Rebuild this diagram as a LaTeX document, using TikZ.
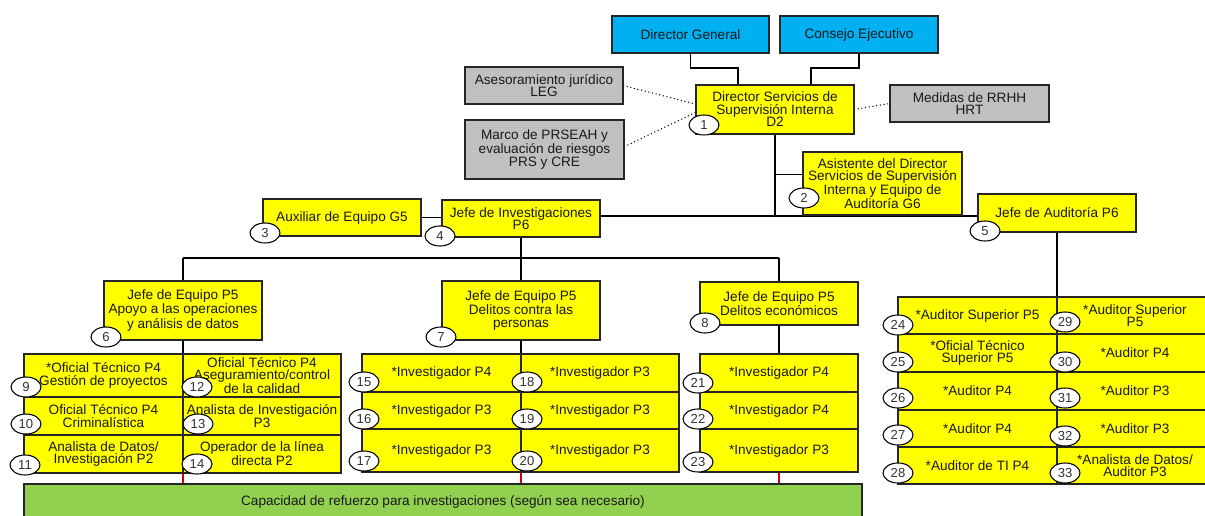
\documentclass[tikz,border=0pt]{standalone}
\usepackage{fontspec}
\setmainfont{Liberation Sans}
\usetikzlibrary{shapes.geometric,backgrounds}
\definecolor{yfill}{HTML}{FFFF00}
\definecolor{bfill}{HTML}{00B0F0}
\definecolor{grayfill}{HTML}{C0C0C0}
\definecolor{greenfill}{HTML}{92D050}
\definecolor{redline}{HTML}{D00000}
\newcommand\bx[7]{\node[#6,anchor=north west,minimum width={(#4-#2)*0.75pt},minimum height={(#5-#3)*0.75pt}] (#1) at (#2,#3) {#7};}
\tikzset{
 box/.style={draw=black!85, line width=0.8pt, inner sep=1pt, outer sep=0pt, align=center, font=\fontsize{10.2}{9.4}\selectfont, text=black!90},
 yb/.style={box, fill=yfill},
 bb/.style={box, fill=bfill},
 gb/.style={box, fill=grayfill},
 greenb/.style={box, fill=greenfill},
 numell/.style={ellipse, draw=black, line width=0.8pt, fill=white, minimum width=22.5pt, minimum height=15pt, inner sep=0pt, font=\fontsize{9.8}{9.8}\selectfont, text=black!80},
 conn/.style={draw=black, line width=0.8pt},
 dotconn/.style={draw=black, line width=0.8pt, dotted},
 redc/.style={draw=redline, line width=0.8pt}
}
\begin{document}
\begin{tikzpicture}[x=0.75pt,y=-0.75pt]
\useasboundingbox (0,0) rectangle (1205,516);
% boxes
\bx{dg}{612}{16}{769}{53}{bb}{Director General}
\bx{ce}{780}{16}{938}{53}{bb}{Consejo Ejecutivo}
\bx{leg}{465}{67}{623}{104}{gb}{Asesoramiento jurídico\\LEG}
\bx{prs}{465}{120}{624}{179}{gb}{Marco de PRSEAH y\\evaluación de riesgos\\PRS y CRE}
\bx{dssi}{696}{85}{854}{134}{yb}{Director Servicios de\\Supervisión Interna\\D2}
\bx{hrt}{890}{85}{1049}{122}{gb}{Medidas de RRHH\\HRT}
\bx{asis}{803}{152}{962}{215}{yb}{Asistente del Director\\Servicios de Supervisión\\Interna y Equipo de\\Auditoría G6}
\bx{aux}{263}{199}{421}{236}{yb}{Auxiliar de Equipo G5}
\bx{jinv}{442}{200}{600}{237}{yb}{Jefe de Investigaciones\\P6}
\bx{ja}{978}{194}{1136}{232}{yb}{Jefe de Auditoría P6}
\bx{je6}{104}{281}{262}{340}{yb}{Jefe de Equipo P5\\Apoyo a las operaciones\\y análisis de datos}
\bx{je7}{442}{281}{600}{340}{yb}{Jefe de Equipo P5\\Delitos contra las\\personas}
\bx{je8}{700}{282}{858}{325}{yb}{Jefe de Equipo P5\\Delitos económicos}
% left grid
\bx{c9}{24}{354}{183}{397}{yb}{*Oficial Técnico P4\\Gestión de proyectos}
\bx{c12}{183}{354}{341}{397}{yb}{Oficial Técnico P4\\Aseguramiento/control\\de la calidad}
\bx{c10}{24}{397}{183}{435}{yb}{Oficial Técnico P4\\Criminalística}
\bx{c13}{183}{397}{341}{435}{yb}{Analista de Investigación\\P3}
\bx{c11}{24}{435}{183}{473}{yb}{Analista de Datos/\\Investigación P2}
\bx{c14}{183}{435}{341}{473}{yb}{Operador de la línea\\directa P2}
% middle grid
\bx{c15}{362}{354}{521}{392}{yb}{*Investigador P4}
\bx{c18}{521}{354}{679}{392}{yb}{*Investigador P3}
\bx{c16}{362}{392}{521}{429}{yb}{*Investigador P3}
\bx{c19}{521}{392}{679}{429}{yb}{*Investigador P3}
\bx{c17}{362}{429}{521}{472}{yb}{*Investigador P3}
\bx{c20}{521}{429}{679}{472}{yb}{*Investigador P3}
% right grid
\bx{c21}{700}{354}{858}{392}{yb}{*Investigador P4}
\bx{c22}{700}{392}{858}{429}{yb}{*Investigador P4}
\bx{c23}{700}{429}{858}{472}{yb}{*Investigador P3}
% audit grid
\bx{c24}{898}{297}{1057}{334}{yb}{*Auditor Superior P5}
\bx{c25}{898}{334}{1057}{372}{yb}{*Oficial Técnico\\Superior P5}
\bx{c26}{898}{372}{1057}{410}{yb}{*Auditor P4}
\bx{c27}{898}{410}{1057}{447}{yb}{*Auditor P4}
\bx{c28}{898}{447}{1057}{484}{yb}{*Auditor de TI P4}
\bx{c29}{1057}{297}{1213}{334}{yb}{*Auditor Superior\\P5}
\bx{c30}{1057}{334}{1213}{372}{yb}{*Auditor P4}
\bx{c31}{1057}{372}{1213}{410}{yb}{*Auditor P3}
\bx{c32}{1057}{410}{1213}{447}{yb}{*Auditor P3}
\bx{c33}{1057}{447}{1213}{484}{yb}{*Analista de Datos/\\Auditor P3}
% green
\bx{cap}{24}{484}{862}{520}{greenb}{Capacidad de refuerzo para investigaciones (según sea necesario)}
% number ellipses
\node[numell] (n1) at (704,125) {1};
\node[numell] (n2) at (804,198) {2};
\node[numell] (n3) at (265,233) {3};
\node[numell] (n4) at (440,236) {4};
\node[numell] (n5) at (985,231) {5};
\node[numell] (n6) at (106,337) {6};
\node[numell] (n7) at (441,337) {7};
\node[numell] (n8) at (705,323) {8};
\node[numell] (n9) at (26,387) {9};
\node[numell] (n10) at (26,424) {10};
\node[numell] (n11) at (25,465) {11};
\node[numell] (n12) at (197,387) {12};
\node[numell] (n13) at (198,424) {13};
\node[numell] (n14) at (197,464) {14};
\node[numell] (n15) at (364,382) {15};
\node[numell] (n16) at (364,419) {16};
\node[numell] (n17) at (364,461) {17};
\node[numell] (n18) at (527,382) {18};
\node[numell] (n19) at (527,419) {19};
\node[numell] (n20) at (527,461) {20};
\node[numell] (n21) at (698,383) {21};
\node[numell] (n22) at (698,419) {22};
\node[numell] (n23) at (698,462) {23};
\node[numell] (n24) at (898,325) {24};
\node[numell] (n25) at (898,362) {25};
\node[numell] (n26) at (898,398) {26};
\node[numell] (n27) at (898,435) {27};
\node[numell] (n28) at (898,473) {28};
\node[numell] (n29) at (1065,322) {29};
\node[numell] (n30) at (1065,362) {30};
\node[numell] (n31) at (1065,398) {31};
\node[numell] (n32) at (1065,436) {32};
\node[numell] (n33) at (1065,473) {33};
% connectors
\begin{scope}[on background layer]
\fill[white] (0,0) rectangle (1205,516);
\coordinate (hb) at (0,216);
\coordinate (hb2) at (0,258);
\draw[conn] (dg.south) -- ++(0,15) -| ([xshift=-27.75pt]dssi.north);
\draw[conn] (ce.south) -- ++(0,15) -| ([xshift=27pt]dssi.north);
\draw[dotconn] (leg.east) -- ([yshift=4pt]dssi.west);
\draw[dotconn] ([yshift=2pt]prs.east) -- ([yshift=-2pt]dssi.west);
\draw[dotconn] (dssi.east) -- (hrt.west);
\draw[conn] (dssi.south) -- (dssi.south |- hb);
\draw[conn] (jinv.east |- hb) -- (ja.west |- hb);
\draw[conn] ([yshift=6.4pt]asis.west) -- ([yshift=6.4pt]asis.west -| dssi.south);
\draw[conn] (aux.east) -- (aux.east -| jinv.west);
\draw[conn] (jinv.south) -- (jinv.south |- hb2);
\draw[conn] (je6.north |- hb2) -- (je8.north |- hb2);
\draw[conn] (je6.north |- hb2) -- (je6.north);
\draw[conn] (je7.north |- hb2) -- (je7.north);
\draw[conn] (je8.north |- hb2) -- (je8.north);
\draw[conn] (je6.south) -- (c9.north east);
\draw[conn] (je7.south) -- (c15.north east);
\draw[conn] (je8.south) -- (c21.north);
\draw[conn] (ja.south) -- (c24.north east);
\draw[redc] (c11.south east) -- (c11.south east |- cap.north);
\draw[redc] (c17.south east) -- (c17.south east |- cap.north);
\draw[redc] (c23.south) -- (c23.south |- cap.north);
\end{scope}
\end{tikzpicture}
\end{document}
